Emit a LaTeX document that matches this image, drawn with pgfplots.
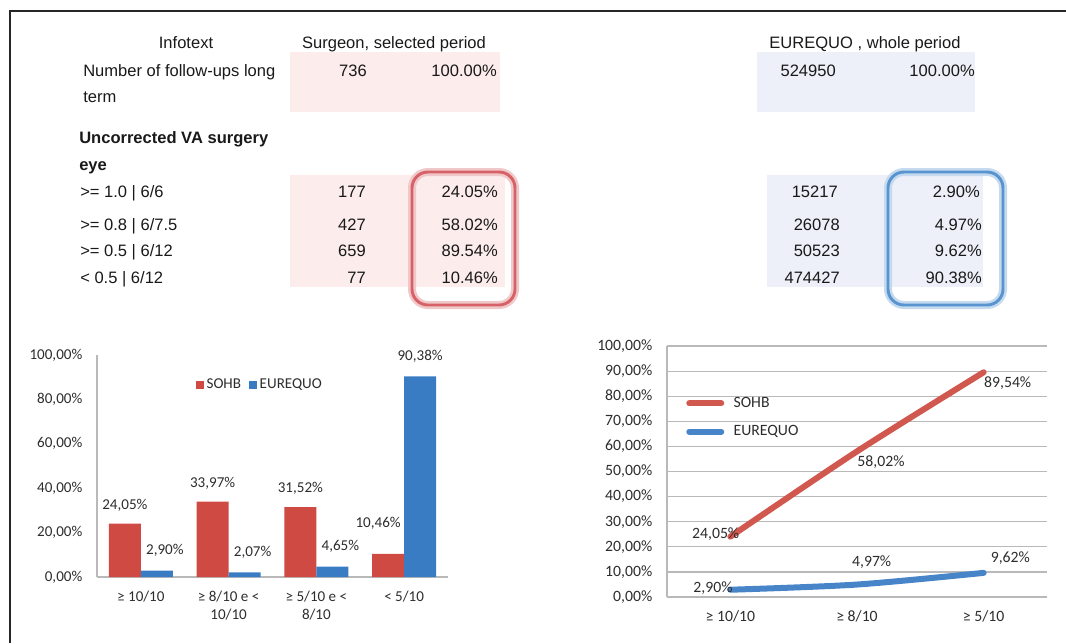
\documentclass[border=0pt]{standalone}
\usepackage{pgfplots}
\pgfplotsset{compat=1.18}
\usepackage{fontspec}
\setmainfont{Liberation Sans}
\newfontfamily\calfont{Carlito}
\definecolor{barred}{RGB}{207,74,66}
\definecolor{barblue}{RGB}{58,124,196}
\definecolor{linered}{RGB}{208,88,78}
\definecolor{lineblue}{RGB}{72,132,200}
\definecolor{pinkbg}{RGB}{252,236,236}
\definecolor{bluebg}{RGB}{237,240,248}
\definecolor{boxred}{RGB}{214,98,104}
\definecolor{boxblue}{RGB}{88,148,208}
\definecolor{txt}{RGB}{25,25,25}
\definecolor{lbl}{RGB}{45,45,45}
\definecolor{axgray}{RGB}{185,185,185}
\begin{document}
\begin{tikzpicture}
\begin{scope}[x=0.75pt,y=-0.75pt]
\useasboundingbox (0,0) rectangle (1066,643);
% background shading of the table
\fill[pinkbg] (290,52) rectangle (500,112);
\fill[bluebg] (757,52) rectangle (975,112);
\fill[pinkbg] (290,175) rectangle (505,287);
\fill[bluebg] (767,175) rectangle (983,287);
% highlight boxes
\draw[boxred!35, line width=6pt, rounded corners=12pt] (412,172) rectangle (515,305);
\draw[boxred, line width=2.2pt, rounded corners=12pt] (412,172) rectangle (515,305);
\draw[boxblue!35, line width=6pt, rounded corners=12pt] (888,172) rectangle (1003,305);
\draw[boxblue, line width=2.2pt, rounded corners=12pt] (888,172) rectangle (1003,305);
% frame
\draw[black!85, line width=1.9pt] (10,643) -- (10,11) -- (1066,11);
% table text
\begin{scope}[every node/.style={text=txt, font=\fontsize{12.4}{14}\selectfont, inner sep=0pt}]
\node[anchor=mid] at (186,45) {Infotext};
\node[anchor=mid] at (394,45) {Surgeon, selected period};
\node[anchor=mid] at (865,45) {EUREQUO , whole period};
\node[anchor=mid west] at (83,73) {Number of follow-ups long};
\node[anchor=mid west] at (83,99) {term};
\node[anchor=mid east] at (367,73) {736};
\node[anchor=mid east] at (497,73) {100.00\%};
\node[anchor=mid east] at (836,73) {524950};
\node[anchor=mid east] at (975,73) {100.00\%};
\node[anchor=mid west, font=\fontsize{12.4}{14}\selectfont\bfseries] at (79,140) {Uncorrected VA surgery};
\node[anchor=mid west, font=\fontsize{12.4}{14}\selectfont\bfseries] at (79,167) {eye};
\node[anchor=mid west] at (80,194) {>= 1.0 | 6/6};
\node[anchor=mid west] at (80,227) {>= 0.8 | 6/7.5};
\node[anchor=mid west] at (80,253) {>= 0.5 | 6/12};
\node[anchor=mid west] at (80,280) {< 0.5 | 6/12};
\node[anchor=mid east] at (366,194) {177};
\node[anchor=mid east] at (366,227) {427};
\node[anchor=mid east] at (366,253) {659};
\node[anchor=mid east] at (366,280) {77};
\node[anchor=mid east] at (498,194) {24.05\%};
\node[anchor=mid east] at (498,227) {58.02\%};
\node[anchor=mid east] at (498,253) {89.54\%};
\node[anchor=mid east] at (498,280) {10.46\%};
\node[anchor=mid east] at (838,194) {15217};
\node[anchor=mid east] at (840,227) {26078};
\node[anchor=mid east] at (840,253) {50523};
\node[anchor=mid east] at (840,280) {474427};
\node[anchor=mid east] at (980,194) {2.90\%};
\node[anchor=mid east] at (982,227) {4.97\%};
\node[anchor=mid east] at (982,253) {9.62\%};
\node[anchor=mid east] at (982,280) {90.38\%};
\end{scope}
\end{scope}

% ---------------- bar chart ----------------
\begin{axis}[
  at={(72.75pt,-432.75pt)}, anchor=south west,
  scale only axis, width=263.25pt, height=166.5pt,
  xmin=-0.5, xmax=3.5, ymin=0, ymax=100,
  ybar=0pt, bar width=24pt,
  xtick={0,1,2,3},
  xticklabels={{≥ 10/10},{≥ 8/10 e <\\10/10},{≥ 5/10 e <\\8/10},{< 5/10}},
  ytick={0,20,40,60,80,100},
  yticklabels={{0,00\%},{20,00\%},{40,00\%},{60,00\%},{80,00\%},{100,00\%}},
  axis x line*=bottom, axis y line*=left,
  axis line style={axgray, line width=0.9pt, -},
  major tick length=0pt,
  tick label style={font=\calfont\fontsize{11.3}{13.5}\selectfont, text=lbl},
  yticklabel style={xshift=-7.5pt},
  xticklabel style={align=center, yshift=-7pt},
  /pgf/number format/assume math mode=true,
  nodes near coords={\pgfmathprintnumber[fixed,fixed zerofill,precision=2,use comma]{\pgfplotspointmeta}\%},
  every node near coord/.append style={font=\calfont\fontsize{11.3}{13}\selectfont, text=lbl, anchor=center},
  clip=false,
  legend columns=2,
  legend style={at={(0.465,0.865)}, anchor=center, draw=none, fill=none,
    font=\calfont\fontsize{11.3}{13}\selectfont, text=lbl,
    /tikz/every even column/.append style={column sep=4pt}},
  legend image code/.code={\fill[#1] (0pt,-3pt) rectangle (6pt,3pt);},
]
\addplot[fill=barred, draw=none,
  every node near coord/.append style={yshift=14pt},
  coordinate style/.condition={x==3}{xshift=-7.5pt, yshift=9pt}]
  coordinates {(0,24.05) (1,33.97) (2,31.52) (3,10.46)};
\addplot[fill=barblue, draw=none,
  every node near coord/.append style={yshift=15pt},
  coordinate style/.condition={x<3}{xshift=6pt}]
  coordinates {(0,2.90) (1,2.07) (2,4.65) (3,90.38)};
\legend{SOHB, EUREQUO}
\end{axis}

% ---------------- line chart ----------------
\begin{axis}[
  at={(500.25pt,-447.75pt)}, anchor=south west,
  scale only axis, width=285pt, height=188.25pt,
  xmin=-0.5, xmax=2.5, ymin=0, ymax=100,
  xtick={0,1,2},
  xticklabels={{≥ 10/10},{≥ 8/10},{≥ 5/10}},
  ytick={0,10,...,100},
  yticklabels={{0,00\%},{10,00\%},{20,00\%},{30,00\%},{40,00\%},{50,00\%},{60,00\%},{70,00\%},{80,00\%},{90,00\%},{100,00\%}},
  ymajorgrids, grid style={axgray, line width=0.9pt},
  axis x line*=bottom, axis y line*=left,
  axis line style={axgray, line width=0.9pt, -},
  major tick length=0pt,
  tick label style={font=\calfont\fontsize{11.8}{13.5}\selectfont, text=lbl},
  yticklabel style={xshift=-7.5pt},
  xticklabel style={yshift=-7pt},
  /pgf/number format/assume math mode=true,
  nodes near coords={\pgfmathprintnumber[fixed,fixed zerofill,precision=2,use comma]{\pgfplotspointmeta}\%},
  every node near coord/.append style={font=\calfont\fontsize{11.8}{13}\selectfont, text=lbl, anchor=center},
  clip=false,
  legend cell align=left,
  legend style={at={(0.05,0.715)}, anchor=west, draw=none, fill=none,
    font=\calfont\fontsize{11.8}{13}\selectfont, text=lbl, inner sep=0pt,
    row sep=8pt, nodes={inner xsep=7pt}},
  legend image code/.code={\draw[#1, line width=4.5pt, line cap=round] (0pt,0pt) -- (24pt,0pt);},
]
\addplot[linered, line width=4.5pt, line cap=round, smooth, mark=none,
  coordinate style/.condition={x==0}{xshift=-11pt, yshift=2pt},
  coordinate style/.condition={x>0}{xshift=18pt, yshift=-8pt}]
  coordinates {(0,24.05) (1,58.02) (2,89.54)};
\addplot[lineblue, line width=4.5pt, line cap=round, smooth, mark=none,
  coordinate style/.condition={x==0}{xshift=-13pt, yshift=1.5pt},
  coordinate style/.condition={x==1}{xshift=11pt, yshift=16.5pt},
  coordinate style/.condition={x==2}{xshift=20pt, yshift=11pt}]
  coordinates {(0,2.90) (1,4.97) (2,9.62)};
\legend{SOHB, EUREQUO}
\end{axis}
\end{tikzpicture}
\end{document}
